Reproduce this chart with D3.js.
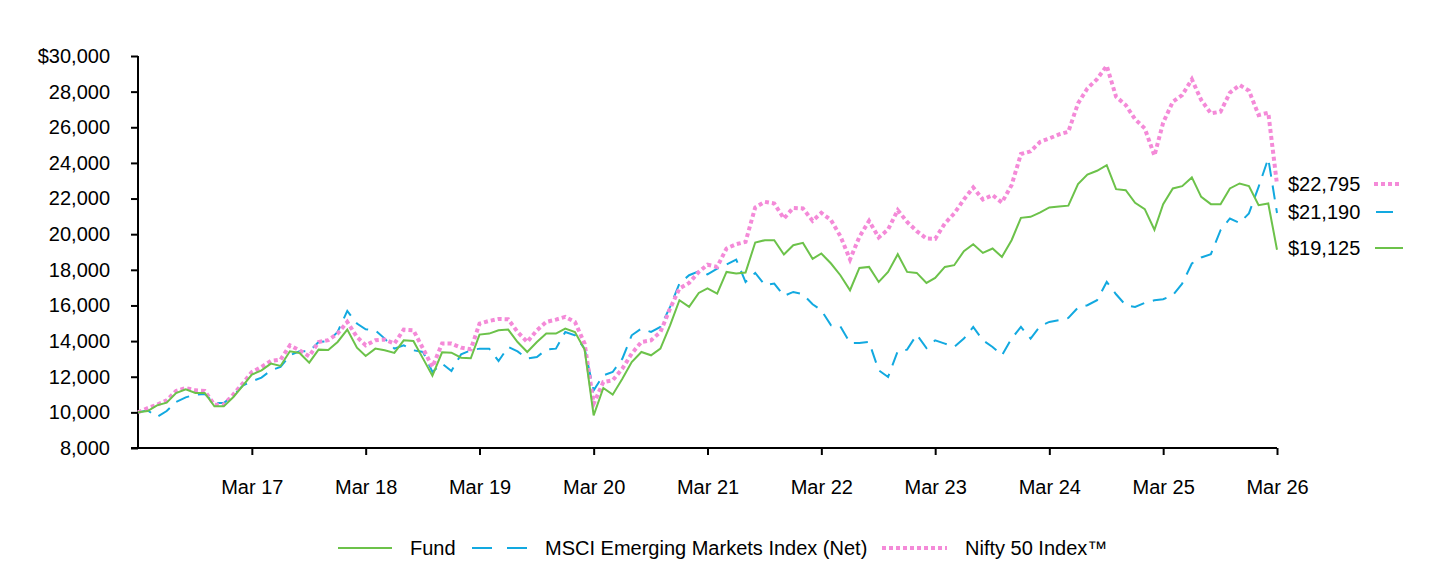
<!DOCTYPE html>
<html>
<head>
<meta charset="utf-8">
<script src="https://cdn.jsdelivr.net/npm/d3@7"></script>
<style>
  html, body { margin: 0; padding: 0; background: #fff; }
  svg { display: block; }
  text { font-family: "Liberation Sans", Arial, sans-serif; fill: #000; }
</style>
</head>
<body>
<svg id="chart" width="1440" height="564"></svg>
<script>
// ---- data (monthly values, Mar 2016 .. Mar 2026) ----
const startDate = new Date(2016, 2, 31);

const fundValues = [
  10000, 10073, 10393, 10543, 11085, 11292, 11085, 11085, 10337, 10337, 10862, 11517,
  12116, 12360, 12734, 12603, 13427, 13333, 12790, 13520, 13500, 13951, 14644, 13633,
  13165, 13577, 13483, 13334, 14045, 14007, 13015, 12062, 13371, 13352, 13071, 13034,
  14363, 14420, 14607, 14644, 13950, 13390, 13951, 14420, 14420, 14700, 14513, 13521,
  9831, 11367, 10993, 11892, 12827, 13390, 13202, 13577, 14888, 16292, 15918, 16703,
  16960, 16668, 17882, 17790, 17846, 19534, 19663, 19663, 18860, 19382, 19513, 18615,
  18916, 18354, 17697, 16854, 18107, 18163, 17320, 17882, 18876, 17882, 17827, 17264,
  17545, 18163, 18259, 19045, 19438, 18950, 19197, 18725, 19663, 20916, 20972, 21219,
  21500, 21550, 21600, 22809, 23340, 23559, 23876, 22528, 22472, 21760, 21404, 20250,
  21685, 22565, 22697, 23185, 22097, 21685, 21685, 22565, 22846, 22697, 21629, 21722,
  19125
];

const msciValues = [
  10000, 10112, 9738, 10075, 10581, 10843, 10993, 11030, 10524, 10524, 10955, 11517,
  11742, 11948, 12360, 12547, 13202, 13427, 13427, 13951, 13989, 14513, 15693, 14981,
  14663, 14607, 14139, 13577, 13764, 13483, 13390, 12266, 12734, 12323, 13258, 13483,
  13577, 13577, 12884, 13671, 13420, 13015, 13109, 13521, 13577, 14513, 14326, 13577,
  11236, 12079, 12266, 13015, 14326, 14700, 14513, 14794, 15918, 17227, 17697, 17921,
  17740, 18070, 18296, 18578, 17320, 17827, 17135, 17227, 16534, 16759, 16629, 16067,
  15730, 14888, 14831, 13895, 13895, 13951, 12360, 11985, 13440, 13521, 14363, 13614,
  14045, 13858, 13671, 14139, 14794, 14045, 13671, 13202, 14139, 14794, 14139, 14850,
  15075, 15169, 15300, 15882, 16011, 16292, 17320, 16629, 16011, 15918, 16142, 16292,
  16348, 16573, 17227, 18354, 18691, 18876, 20225, 20881, 20635, 21163, 22658, 24252,
  21190
];

const niftyValues = [
  10000, 10243, 10431, 10674, 11199, 11367, 11236, 11199, 10431, 10431, 11011, 11648,
  12266, 12547, 12884, 12959, 13764, 13483, 13146, 13951, 14050, 14420, 15075, 14232,
  13764, 14045, 14083, 13858, 14644, 14607, 13577, 12547, 13858, 13858, 13633, 13540,
  14981, 15131, 15244, 15225, 14513, 13951, 14607, 15075, 15206, 15356, 15075, 13858,
  10487, 11705, 11798, 12453, 13296, 13951, 14045, 14513, 15826, 16947, 17264, 17882,
  18287, 18163, 19197, 19438, 19570, 21500, 21815, 21722, 20880, 21478, 21441, 20747,
  21197, 20787, 19888, 18578, 19850, 20747, 19813, 20264, 21348, 20691, 20169, 19757,
  19738, 20601, 21163, 21946, 22620, 21946, 22191, 21778, 22753, 24500, 24650, 25186,
  25374, 25599, 25749, 27341, 28180, 28700, 29450, 27714, 27248, 26450, 25937, 24410,
  26260, 27433, 27808, 28690, 27528, 26780, 26874, 27939, 28371, 28053, 26686, 26818,
  22795
];

const seriesNames = ["Fund", "MSCI Emerging Markets Index (Net)", "Nifty 50 Index\u2122"];
const endLabels = ["$19,125", "$21,190", "$22,795"];
const xTickLabels = ["Mar 17", "Mar 18", "Mar 19", "Mar 20", "Mar 21", "Mar 22", "Mar 23", "Mar 24", "Mar 25", "Mar 26"];
const yTickValues = [8000, 10000, 12000, 14000, 16000, 18000, 20000, 22000, 24000, 26000, 28000, 30000];

// ---- styles ----
const colors = { fund: "#6cc24a", msci: "#12a9e0", nifty: "#f48ad8" };
const FONT = 20;

const svg = d3.select("#chart");
const dates = fundValues.map((_, i) => d3.timeMonth.offset(startDate, i));

const x = d3.scaleTime()
  .domain([dates[0], dates[dates.length - 1]])
  .range([138, 1277]);
const y = d3.scaleLinear().domain([8000, 30000]).range([448, 56]);

// Y axis
const yAxis = d3.axisLeft(y)
  .tickValues(yTickValues)
  .tickSize(7)
  .tickPadding(21)
  .tickFormat((d, i) => (d === 30000 ? "$" : "") + d3.format(",")(d));
const gy = svg.append("g").attr("transform", "translate(138,0)").call(yAxis);
gy.selectAll("text").attr("font-size", FONT).attr("font-family", '"Liberation Sans", Arial, sans-serif');
gy.select(".domain").attr("stroke", "#000").attr("stroke-width", 2).attr("d", "M0,56V448");
gy.selectAll(".tick line").attr("stroke", "#000").attr("stroke-width", 2);

// X axis
const xTickDates = xTickLabels.map((_, i) => dates[(i + 1) * 12]);
const xAxis = d3.axisBottom(x)
  .tickValues(xTickDates)
  .tickSize(7)
  .tickPadding(25)
  .tickFormat((d, i) => xTickLabels[i]);
const gx = svg.append("g").attr("transform", "translate(0,448)").call(xAxis);
gx.selectAll("text").attr("font-size", FONT).attr("font-family", '"Liberation Sans", Arial, sans-serif');
gx.select(".domain").attr("stroke", "#000").attr("stroke-width", 2).attr("d", "M131,0H1277");
gx.selectAll(".tick line").attr("stroke", "#000").attr("stroke-width", 2);

// Lines
const line = d3.line().x((d, i) => x(dates[i])).y(d => y(d));

svg.append("path").datum(msciValues)
  .attr("fill", "none").attr("stroke", colors.msci).attr("stroke-width", 2)
  .attr("stroke-dasharray", "14,9").attr("d", line);

svg.append("path").datum(niftyValues)
  .attr("fill", "none").attr("stroke", colors.nifty).attr("stroke-width", 4)
  .attr("stroke-dasharray", "4,3").attr("d", line);

svg.append("path").datum(fundValues)
  .attr("fill", "none").attr("stroke", colors.fund).attr("stroke-width", 2)
  .attr("d", line);

// End labels
const endG = svg.append("g");
const endItems = [
  { text: endLabels[2], cy: 184, color: colors.nifty, w: 4, dash: "4,3", x1: 1374, x2: 1402 },
  { text: endLabels[1], cy: 212, color: colors.msci, w: 2, dash: null, x1: 1376, x2: 1393 },
  { text: endLabels[0], cy: 248, color: colors.fund, w: 2, dash: null, x1: 1375, x2: 1403 }
];
endItems.forEach(it => {
  endG.append("text").attr("x", 1288).attr("y", it.cy).attr("dy", "0.35em")
    .attr("font-size", FONT).text(it.text);
  const l = endG.append("line").attr("x1", it.x1).attr("x2", it.x2)
    .attr("y1", it.cy).attr("y2", it.cy)
    .attr("stroke", it.color).attr("stroke-width", it.w);
  if (it.dash) l.attr("stroke-dasharray", it.dash);
});

// Legend
const legY = 548;
const leg = svg.append("g");
const legItems = [
  { name: seriesNames[0], color: colors.fund, w: 2, dash: null, x1: 338, x2: 392, tx: 410 },
  { name: seriesNames[1], color: colors.msci, w: 2, dash: "20,15", x1: 472, x2: 527, tx: 545 },
  { name: seriesNames[2], color: colors.nifty, w: 4, dash: "4,3", x1: 882, x2: 947, tx: 965 }
];
legItems.forEach(it => {
  const l = leg.append("line").attr("x1", it.x1).attr("x2", it.x2)
    .attr("y1", legY).attr("y2", legY)
    .attr("stroke", it.color).attr("stroke-width", it.w);
  if (it.dash) l.attr("stroke-dasharray", it.dash);
  leg.append("text").attr("x", it.tx).attr("y", legY).attr("dy", "0.35em")
    .attr("font-size", FONT).text(it.name);
});
</script>
</body>
</html>
